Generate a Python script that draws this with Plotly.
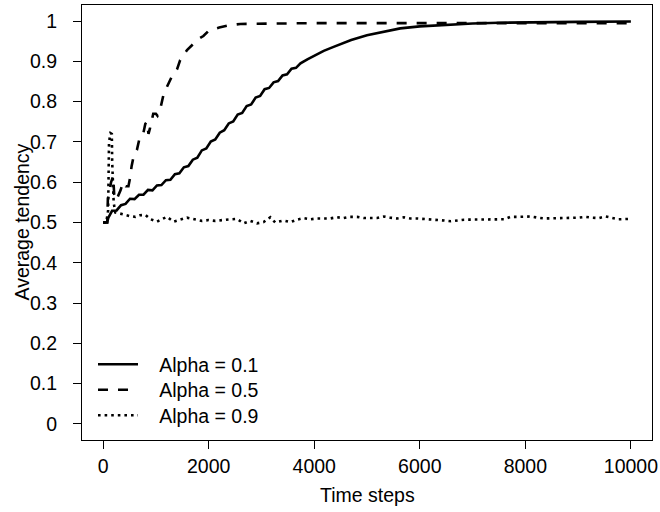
import plotly.graph_objects as go

# ---------------- data ----------------
alpha01_t = [0, 74, 100, 136, 170, 255, 340, 425, 510, 595, 680, 765, 850, 935,
             1020, 1105, 1190, 1275, 1360, 1445, 1530, 1615, 1700, 1785, 1870,
             1955, 2040, 2125, 2210, 2295, 2380, 2465, 2550, 2635, 2720, 2805,
             2890, 2975, 3060, 3145, 3230, 3315, 3400, 3485, 3570, 3655, 3740,
             3870, 4000, 4180, 4367, 4700, 4999, 5300, 5630, 6000, 6577, 7000,
             7500, 8000, 8500, 9000, 10000]
alpha01_v = [0.500, 0.500, 0.512, 0.523, 0.529, 0.530, 0.543, 0.546, 0.559, 0.558,
             0.569, 0.569, 0.581, 0.580, 0.592, 0.593, 0.605, 0.606, 0.620, 0.622,
             0.637, 0.640, 0.656, 0.661, 0.679, 0.684, 0.701, 0.706, 0.723, 0.729,
             0.746, 0.751, 0.768, 0.772, 0.789, 0.793, 0.810, 0.814, 0.831, 0.834,
             0.848, 0.851, 0.865, 0.868, 0.882, 0.884, 0.895,
             0.905, 0.914, 0.926, 0.936, 0.953, 0.965, 0.974, 0.982, 0.987, 0.992,
             0.994, 0.996, 0.997, 0.998, 0.998, 0.999]

alpha05_t = [0, 80, 90, 110, 150, 190, 210, 240, 280, 330, 380, 430, 480, 510,
             540, 580, 640, 700, 760, 800, 830, 860, 890, 950, 1000, 1030, 1080,
             1140, 1210, 1300, 1400, 1460, 1590, 1690, 1800, 1900, 2000, 2200,
             2400, 2600, 3000, 4000, 6000, 8000, 10000]
alpha05_v = [0.500, 0.500, 0.560, 0.570, 0.600, 0.615, 0.570, 0.555, 0.565, 0.580,
             0.600, 0.590, 0.590, 0.610, 0.640, 0.665, 0.680, 0.715, 0.720, 0.745,
             0.750, 0.720, 0.735, 0.770, 0.770, 0.765, 0.780, 0.815, 0.837, 0.862,
             0.880, 0.903, 0.928, 0.940, 0.955, 0.963, 0.976, 0.984, 0.990, 0.993,
             0.994, 0.995, 0.995, 0.995, 0.995]

alpha09_t = [0, 60, 95, 105, 112, 140, 165, 172, 185, 200, 230, 300, 389, 500,
             610, 700, 800, 900, 1021, 1110, 1210, 1336, 1460, 1589, 1730, 1873,
             2000, 2125, 2330, 2536, 2662, 2790, 2915, 3040, 3168, 3260, 3420,
             3550, 3673, 3800, 3925, 4050, 4300, 4430, 4560, 4680, 4810, 4940,
             5190, 5320, 5440, 5570, 5700, 5820, 5950, 6200, 6330, 6460, 6590,
             6710, 6840, 7600, 7720, 7850, 8110, 8240, 8370, 9000, 9130, 9260,
             9390, 9520, 9650, 9770, 10000]
alpha09_v = [0.500, 0.500, 0.530, 0.620, 0.700, 0.722, 0.720, 0.650, 0.580, 0.550,
             0.525, 0.522, 0.520, 0.516, 0.514, 0.518, 0.519, 0.508, 0.502, 0.508,
             0.514, 0.502, 0.506, 0.512, 0.508, 0.504, 0.506, 0.504, 0.507, 0.509,
             0.498, 0.504, 0.498, 0.501, 0.513, 0.500, 0.505, 0.501, 0.507, 0.511,
             0.508, 0.510, 0.510, 0.513, 0.511, 0.514, 0.514, 0.511, 0.511, 0.515,
             0.512, 0.510, 0.513, 0.510, 0.510, 0.508, 0.507, 0.505, 0.503, 0.505,
             0.507, 0.508, 0.514, 0.514, 0.515, 0.512, 0.510, 0.512, 0.514, 0.512,
             0.511, 0.515, 0.512, 0.508, 0.509]

series_names = ["Alpha = 0.1", "Alpha = 0.5", "Alpha = 0.9"]
x_ticks = [0, 2000, 4000, 6000, 8000, 10000]
x_tick_labels = ["0", "2000", "4000", "6000", "8000", "10000"]
y_ticks = [0, 0.1, 0.2, 0.3, 0.4, 0.5, 0.6, 0.7, 0.8, 0.9, 1]
y_tick_labels = ["0", "0.1", "0.2", "0.3", "0.4", "0.5", "0.6", "0.7", "0.8", "0.9", "1"]

FONT = "Liberation Sans, Arial, Helvetica, sans-serif"
FS = 19.5
GAP = "\u00a0\u00a0\u00a0"  # spacing between legend sample line and label

fig = go.Figure()
fig.add_trace(go.Scatter(x=alpha01_t, y=alpha01_v, mode="lines", name=GAP + series_names[0],
                         line=dict(color="black", width=2.6), legend="legend"))
fig.add_trace(go.Scatter(x=alpha05_t, y=alpha05_v, mode="lines", name=GAP + series_names[1],
                         line=dict(color="black", width=2.6, dash="10px,10px"),
                         legend="legend2"))
fig.add_trace(go.Scatter(x=alpha09_t, y=alpha09_v, mode="lines", name=GAP + series_names[2],
                         line=dict(color="black", width=2.6, dash="2.6px,4px"),
                         legend="legend3"))

axis_common = dict(showgrid=False, zeroline=False, showline=True, mirror=True,
                   linecolor="black", linewidth=1, ticks="outside", ticklen=8,
                   tickwidth=1, tickcolor="black",
                   tickfont=dict(family=FONT, size=FS, color="black"))

fig.update_xaxes(range=[-400, 10400], tickvals=x_ticks, ticktext=x_tick_labels,
                 ticklabelstandoff=1, **axis_common)
fig.update_yaxes(range=[-0.04, 1.04], tickvals=y_ticks, ticktext=y_tick_labels,
                 ticklabelstandoff=12, **axis_common)


def legend_at(ypix):
    return dict(x=11 / 570, y=(440 - ypix) / 435, xanchor="left", yanchor="middle",
                bgcolor="rgba(0,0,0,0)", borderwidth=0,
                font=dict(family=FONT, size=FS, color="black"), itemwidth=40)


fig.update_layout(
    width=660, height=512,
    margin=dict(l=82, r=8, t=5, b=72, autoexpand=False),
    plot_bgcolor="white", paper_bgcolor="white",
    font=dict(family=FONT, size=FS, color="black"),
    showlegend=True,
    legend=legend_at(364.5),
    legend2=legend_at(390),
    legend3=legend_at(415.5),
    annotations=[
        dict(text="Average tendency", xref="paper", yref="paper",
             x=(21 - 82) / 570, y=0.5, xanchor="center", yanchor="middle",
             textangle=-90, showarrow=False,
             font=dict(family=FONT, size=FS, color="black")),
        dict(text="Time steps", xref="paper", yref="paper",
             x=0.5, y=(440 - 495) / 435, xanchor="center", yanchor="middle",
             showarrow=False,
             font=dict(family=FONT, size=FS, color="black")),
    ],
)

fig.write_html("out.html", config={"displayModeBar": False},
               post_script="document.body.style.margin='0';document.body.style.overflow='hidden';")
